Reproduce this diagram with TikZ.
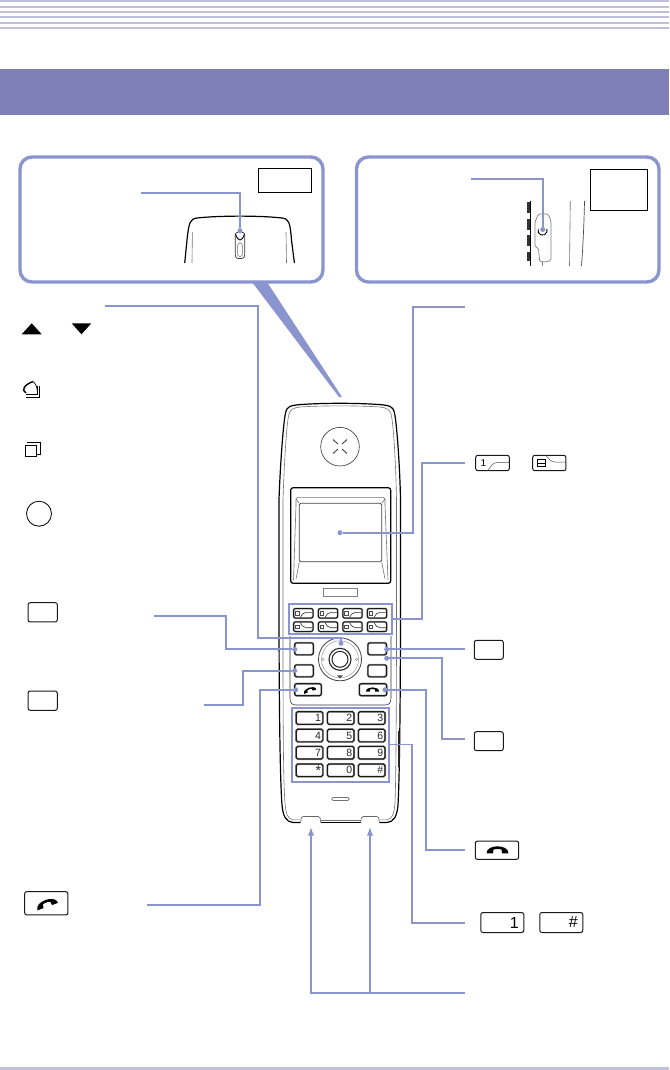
\documentclass[tikz,border=0pt]{standalone}
\usepackage{fontspec}
\setmainfont{Liberation Sans}
\usetikzlibrary{arrows.meta,calc}
\definecolor{bannerblue}{HTML}{8080B8}
\definecolor{stripeblue}{HTML}{C0C0DE}
\definecolor{leaderblue}{HTML}{8A94CE}
\tikzset{
  stripe/.style={stripeblue, line width=2pt},
  callout/.style={draw=leaderblue, line width=3.4pt, rounded corners=12pt},
  tagbox/.style={draw=black, line width=0.7pt, inner sep=0pt},
  leader/.style={leaderblue, line width=1.8pt},
  leaddot/.style={circle, fill=leaderblue, inner sep=0pt, minimum size=5pt},
  keyframe/.style={draw=leaderblue, line width=2pt, inner sep=0pt},
  body/.style={black, line width=1.2pt},
  bodythin/.style={black!55, line width=0.6pt},
  iconkey/.style={draw=black!90, line width=1pt, rounded corners=2.2pt, inner sep=0pt},
  softkey/.style={draw=black!90, line width=1pt, rounded corners=2pt, inner sep=0pt, minimum width=19.4pt, minimum height=9.6pt,
    preaction={draw=black!35, line width=1.9pt}},
  sidekey/.style={draw=black!90, line width=1.1pt, rounded corners=2pt, inner sep=0pt, minimum width=18.6pt, minimum height=12pt,
    preaction={draw=black!35, line width=2pt}},
  padkey/.style={draw=black!90, line width=1.1pt, rounded corners=1.5pt, inner sep=0pt, minimum width=26.6pt, minimum height=12.6pt,
    text width=23pt, align=right, font=\fontsize{10.5}{10.5}\selectfont, text=black!85, preaction={draw=black!35, line width=2pt}},
  bigkey/.style={iconkey, minimum width=43pt, minimum height=20pt, text width=33pt, align=right, font=\fontsize{16}{16}\selectfont},
  softrise/.pic={\draw[line width=0.6pt, black!80] (-3,4.2) .. controls (-1,1) and (0,-1) .. (3,-1) -- (9,-1);
    \draw[black!70, line width=0.6pt] (-8,-1.6) rectangle (-4.5,1.6);},
  softfall/.pic={\draw[line width=0.6pt, black!80] (-3,-4.2) .. controls (-1,-1) and (0,1) .. (3,1) -- (9,1);
    \draw[black!70, line width=0.6pt] (-8,-1.6) rectangle (-4.5,1.6);},
  handset/.pic={\fill (-11,3.8) .. controls (-11,-1.2) and (-5,-3.2) .. (0,-3.2) .. controls (5,-3.2) and (11,-1.2) .. (11,3.8)
    -- (4.5,3.8) -- (4,0.2) .. controls (2,-0.8) and (-2,-0.8) .. (-4,0.2) -- (-4.5,3.8) -- cycle;},
}
\begin{document}
\begin{tikzpicture}[x=1pt, y=-1pt]
  \useasboundingbox (0,0) rectangle (669,1070);
  % page head
  \draw[stripe] (0,1) -- (669,1);
  \draw[stripe] (0,6.7) -- (669,6.7);
  \draw[stripe] (0,12) -- (669,12);
  \draw[stripe] (0,17) -- (669,17);
  \draw[stripe] (0,23) -- (669,23);
  \draw[stripe] (0,28) -- (669,28);
  \fill[bannerblue] (0,69) rectangle (669,115);
  \fill[stripeblue] (0,1067) rectangle (669,1070);

  % wedge from the top callout
  \fill[leaderblue] (252,282) -- (267,282) -- (342,397) -- (339,397) -- cycle;

  % top view callout
  \draw[callout, fill=white] (20,157) rectangle (323,282);
  \node[tagbox, minimum width=53pt, minimum height=24pt] (toptag) at (285,180.3) {};
  \draw[body] (184.7,263) -- (187,240) .. controls (189,222) and (190,219) .. (197,218) .. controls (220,215.5) and (260,215.5) .. (282,218) .. controls (289,219) and (290,222) .. (291.5,240) -- (294.4,263);
  \draw[bodythin] (192.4,232) -- (192,263);
  \draw[bodythin] (286,232) -- (286.5,263);
  \draw[black!80, line width=0.7pt, rounded corners=3pt] (235.3,232) rectangle (244.7,258.5);
  \draw[black!60, line width=0.5pt, rounded corners=2.4pt] (237.6,243) rectangle (242.4,256.5);
  \draw[black, line width=0.9pt] (235.5,234) .. controls (237,238) and (238,240) .. (240,240) .. controls (242,240) and (243,238) .. (244.5,234);

  % side view callout
  \draw[callout, fill=white] (356.5,157) rectangle (659,282);
  \node[tagbox, minimum width=57pt, minimum height=41pt] (sidetag) at (619,189.8) {};
  \draw[black, line width=0.8pt] (530,201) -- (530,266);
  \draw[line width=3.2pt, black!80] (528.2,202) -- (528.2,213);
  \draw[line width=3.2pt, black!80] (528.2,219) -- (528.2,230);
  \draw[line width=3.2pt, black!80] (528.2,235) -- (528.2,246);
  \draw[line width=3.2pt, black!80] (528.2,252) -- (528.2,261);
  \draw[black!50, line width=0.7pt, rounded corners=1.5pt] (538.4,214) -- (548,214) -- (551,221) -- (551,260) -- (548,261.7) -- (539.7,261.7) -- (538.4,248) -- (535,247) -- (535,222) -- cycle;
  \draw[black!50, line width=0.6pt] (542,261.7) -- (542,266);
  \draw[black, line width=0.9pt] (538.2,229) arc[start angle=200, end angle=-20, radius=4.6];
  \draw[bodythin] (570.3,201) -- (569.5,266);
  \draw[black!70, line width=0.7pt] (584.5,201) .. controls (584,225) and (583,245) .. (581.5,266);

  % handset outline
  \draw[body] (300.7,822.5) -- (293,822.5) .. controls (286,822) and (283,816) .. (282,805) .. controls (280,780) and (279,700) .. (279,600) -- (279,500) .. controls (280,470) and (283,425) .. (285.5,413) .. controls (287,406) and (291,405.5) .. (298,404.8) .. controls (320,402.8) and (360,402.8) .. (382,404.8) .. controls (389,405.5) and (393,406) .. (394.5,413) .. controls (397,425) and (400,470) .. (400.5,500) -- (400.5,600) .. controls (400.5,700) and (399.5,780) .. (398,805) .. controls (397,816) and (394,822) .. (387,822.5) -- (379.3,822.5);
  \draw[body] (320.7,822.7) -- (360.7,822.7);
  \draw[bodythin] (300.7,819.8) -- (293,819.8) .. controls (288,819) and (286,815) .. (285,803) .. controls (283,780) and (283,700) .. (283,620) -- (283,500) .. controls (284,470) and (286,430) .. (288.5,416) .. controls (290,409) and (293,408) .. (300,407) .. controls (320,405.5) and (360,405.5) .. (380,407) .. controls (387,408) and (390,409) .. (391.5,416) .. controls (394,430) and (396,470) .. (396.5,500) -- (396.5,620) .. controls (396.5,700) and (396,780) .. (395,803) .. controls (394,815) and (392,819) .. (387,819.8) -- (379.3,819.8);
  \draw[bodythin] (320.7,819.8) -- (360.7,819.8);
  \draw[black!60, line width=0.6pt, rounded corners=1.5pt] (300.7,822.7) -- (301.5,816.5) -- (320,816.5) -- (320.7,822.7);
  \draw[black!60, line width=0.6pt, rounded corners=1.5pt] (360.7,822.7) -- (361.5,816.5) -- (378.5,816.5) -- (379.3,822.7);
  \draw[line width=1.8pt, black!85] (399,731) -- (399,767);
  \node[draw=black!55, line width=0.6pt, rounded corners=1.4pt, inner sep=0pt, minimum width=17.6pt, minimum height=3pt] (slot) at (340.5,799) {};

  % earpiece
  \node[circle, draw=black!80, line width=0.6pt, inner sep=0pt, minimum size=38.6pt] (earpiece) at (340,446.7) {};
  \draw[black!70, line width=1pt] (333,439.5) -- (338,444);
  \draw[black!70, line width=1pt] (347,439.5) -- (342,444);
  \draw[black!70, line width=1pt] (333,453.5) -- (338,449);
  \draw[black!70, line width=1pt] (347,453.5) -- (342,449);

  % display
  \draw[black, line width=1.2pt, rounded corners=2.5pt] (290.7,583.3) -- (290.7,487.7) -- (390.7,487.7) -- (390.7,583.3) -- cycle;
  \draw[bodythin] (296,505) -- (296,499) -- (298,497.3) -- (383,497.3) -- (385,499) -- (385,505);
  \draw[black!75, line width=0.7pt, rounded corners=1.5pt] (299.3,503.3) rectangle (381.7,561.7);
  \draw[bodythin] (296,499) -- (299.3,503.3);
  \draw[bodythin] (385,499) -- (381.7,503.3);
  \draw[bodythin] (296,505) -- (293.5,580);
  \draw[bodythin] (385,505) -- (388,580);
  \draw[bodythin] (299.3,561.7) -- (296,579);
  \draw[bodythin] (381.7,561.7) -- (385,579);
  \node[draw=black!50, line width=0.5pt, minimum width=34pt, minimum height=8.4pt, inner sep=0pt] (labelslot) at (340.3,592.5) {};

  % soft keys
  \node[keyframe, minimum width=102.4pt, minimum height=30.3pt] (softframe) at (340.5,619.2) {};
  \node[softkey] (softa) at (303.3,613.3) {};
  \node[softkey] (softb) at (328,613.3) {};
  \node[softkey] (softc) at (352.5,613.3) {};
  \node[softkey] (softd) at (377,613.3) {};
  \node[softkey] (softe) at (303.3,626.7) {};
  \node[softkey] (softf) at (328,626.7) {};
  \node[softkey] (softg) at (352.5,626.7) {};
  \node[softkey] (softh) at (377,626.7) {};
  \pic at (softa) {softrise};
  \pic at (softb) {softrise};
  \pic at (softc) {softrise};
  \pic at (softd) {softrise};
  \pic at (softe) {softfall};
  \pic at (softf) {softfall};
  \pic at (softg) {softfall};
  \pic at (softh) {softfall};

  % cursor pad and side keys
  \draw[bodythin, black!80] (290,636) -- (290,698) .. controls (290,703) and (292,705) .. (296,705) -- (385,705) .. controls (389,705) and (391,703) .. (391,698) -- (391,636);
  \node[circle, draw=black!75, line width=0.8pt, inner sep=0pt, minimum size=43pt] (navouter) at (340,659.3) {};
  \node[circle, draw=black!40, line width=0.5pt, inner sep=0pt, minimum size=37pt] (navinner) at (340,659.3) {};
  \node[circle, draw=black!85, line width=1.1pt, inner sep=0pt, minimum size=22pt] (navring) at (340,659.3) {};
  \node[circle, draw=black!85, line width=1pt, inner sep=0pt, minimum size=16pt] (navcentre) at (340,659.3) {};
  \fill[black!70] (337,675.3) -- (343,675.3) -- (340,678.5) -- cycle;
  \node[circle, draw=black!45, line width=0.4pt, inner sep=0pt, minimum size=2.5pt] (navleft) at (323,659.3) {};
  \node[circle, draw=black!45, line width=0.4pt, inner sep=0pt, minimum size=2.5pt] (navright) at (356.5,659.3) {};
  \node[sidekey] (menukey) at (304,648.8) {};
  \node[sidekey] (leftkey) at (304,670.8) {};
  \node[sidekey] (rightkey) at (377.2,648.8) {};
  \node[sidekey] (lowkey) at (377.2,670.8) {};
  \node[sidekey, minimum width=26.6pt] (callkey) at (308,689.7) {};
  \node[sidekey, minimum width=27.4pt] (endkey) at (373,689.7) {};
  \pic[rotate=20, scale=0.6] at (309.5,689.5) {handset};
  \pic[scale=0.6] at (372.5,689.3) {handset};

  % dial pad
  \node[keyframe, minimum width=97.6pt, minimum height=74pt] (padframe) at (340.5,744.7) {};
  \node[padkey] (padone) at (309.5,718) {1};
  \node[padkey] (padtwo) at (340.7,718) {2};
  \node[padkey] (padthree) at (371.7,718) {3};
  \node[padkey] (padfour) at (309.5,735.5) {4};
  \node[padkey] (padfive) at (340.7,735.5) {5};
  \node[padkey] (padsix) at (371.7,735.5) {6};
  \node[padkey] (padseven) at (309.5,752.7) {7};
  \node[padkey] (padeight) at (340.7,752.7) {8};
  \node[padkey] (padnine) at (371.7,752.7) {9};
  \node[padkey, font=\fontsize{14}{10}\selectfont] (padstar) at (309.5,770.3) {*};
  \node[padkey] (padzero) at (340.7,770.3) {0};
  \node[padkey] (padhash) at (371.7,770.3) {\#};

  % left column icons
  \fill[black] (21.7,334.3) -- (31.7,323.3) -- (41.7,334.3) -- cycle;
  \fill[black] (71.7,323.3) -- (91.3,323.3) -- (81.5,334.3) -- cycle;
  \draw[black, line width=1.4pt] (26,393) .. controls (21,390) and (24,385) .. (33,381.5);
  \draw[black, line width=0.7pt] (33,381.5) .. controls (36,384) and (37,387) .. (37.5,392);
  \draw[black, line width=0.8pt] (26,394.6) -- (37.7,394.6) -- (37.7,386);
  \draw[black, line width=0.8pt] (26,397.3) -- (39.6,397.3) -- (39.6,386);
  \draw[black, line width=0.9pt] (25.7,445.7) rectangle (36,456);
  \draw[black, line width=0.8pt] (27.3,442.3) -- (27.3,442) -- (40,442) -- (40,454) -- (37,454);
  \node[circle, draw=black, line width=0.8pt, inner sep=0pt, minimum size=25pt] (okicon) at (39,513.7) {};
  \node[iconkey, minimum width=29.3pt, minimum height=19.3pt] (leftsoft) at (42.7,612.3) {};
  \node[iconkey, minimum width=29.3pt, minimum height=19.3pt] (leftmenu) at (42.7,700.7) {};
  \node[iconkey, minimum width=43.3pt, minimum height=23.3pt] (leftcall) at (46.3,903.3) {};
  \pic[rotate=20] at (46.5,903) {handset};

  % right column icons
  \node[iconkey, minimum width=33.6pt, minimum height=15.4pt] (softone) at (492.5,463) {};
  \node[font=\fontsize{10}{10}\selectfont] (softonenum) at (483.5,463) {1};
  \draw[black!70, line width=0.5pt] (488,470.5) .. controls (491,466) and (493,462.5) .. (497,462.5) -- (509,462.5);
  \node[iconkey, minimum width=33.3pt, minimum height=15.4pt] (softeight) at (549.3,463) {};
  \draw[black, line width=0.8pt] (537,459.8) rectangle (545,466.5);
  \draw[black, line width=0.6pt] (537,463) -- (545,463);
  \draw[black!70, line width=0.5pt] (546,455.5) .. controls (549,459) and (551,462) .. (555,462) -- (566,462);
  \node[iconkey, minimum width=29pt, minimum height=19pt] (rightsoft) at (488.8,649.8) {};
  \node[iconkey, minimum width=29pt, minimum height=19pt] (rightmenu) at (488.8,741.2) {};
  \node[iconkey, minimum width=43.4pt, minimum height=18.3pt] (rightend) at (497,850.2) {};
  \pic at (497.5,849.5) {handset};
  \node[bigkey] (bigone) at (502.3,922.5) {1};
  \node[bigkey] (bighash) at (561.3,922.5) {\#};

  % leader ends
  \coordinate (topfree) at (141,192.7);
  \coordinate (sidefree) at (471,178.7);
  \coordinate (navfree) at (105,305.7);
  \coordinate (softfree) at (154,616);
  \coordinate (menufree) at (204,705);
  \coordinate (callfree) at (147,904.7);
  \coordinate (screenfree) at (465,307);
  \coordinate (softkeyfree) at (465,462.7);
  \coordinate (rightfree) at (465,649.3);
  \coordinate (lowfree) at (465,739);
  \coordinate (endfree) at (465,850.3);
  \coordinate (padfree) at (465,922.7);
  \coordinate (feetfree) at (465,992.7);
  \coordinate (feetjoin) at (370,992.7);
  \coordinate (feetleft) at (311,992.7);

  % leader dots
  \node[leaddot] (topdot) at (240,230.7) {};
  \node[leaddot] (sidedot) at (542.7,229.5) {};
  \node[leaddot] (navdot) at (341,643.3) {};
  \node[leaddot] (softdot) at (294.7,649.3) {};
  \node[leaddot] (menudot) at (294.7,670.7) {};
  \node[leaddot] (calldot) at (295.7,689.7) {};
  \node[leaddot] (screendot) at (340,532.7) {};
  \node[leaddot] (rightdot) at (386.7,649.3) {};
  \node[leaddot] (lowdot) at (386.7,658.3) {};
  \node[leaddot] (enddot) at (385,689.7) {};

  % leaders
  \draw[leader] (topfree) -| (topdot);
  \draw[leader] (sidefree) -| (sidedot);
  \draw[leader] (navfree) -| ++(153.3,332) -| (navdot);
  \draw[leader] (softfree) -| ++(72,33.3) -- (softdot);
  \draw[leader] (menufree) -| ++(39,-34.3) -- (menudot);
  \draw[leader] (callfree) -| ++(112.7,-215) -- (calldot);
  \draw[leader] (screenfree) -| ++(-52,225.7) -- (screendot);
  \draw[leader] (softkeyfree) -| ++(-43,156.5) -- (softframe.east |- 0,619.2);
  \draw[leader] (rightfree) -- (rightdot);
  \draw[leader] (lowfree) -| ++(-23,-80.7) -- (lowdot);
  \draw[leader] (endfree) -| ++(-39.3,-160.6) -- (enddot);
  \draw[leader] (padfree) -| ++(-52.8,-178.2) -- (padframe.east |- 0,744.5);
  \draw[leader, -{Latex[length=9pt,width=6.5pt]}] (feetfree) -- (feetleft) -- (311,826.7);
  \draw[leader, -{Latex[length=9pt,width=6.5pt]}] (feetjoin) -- (370,826.7);
\end{tikzpicture}
\end{document}
